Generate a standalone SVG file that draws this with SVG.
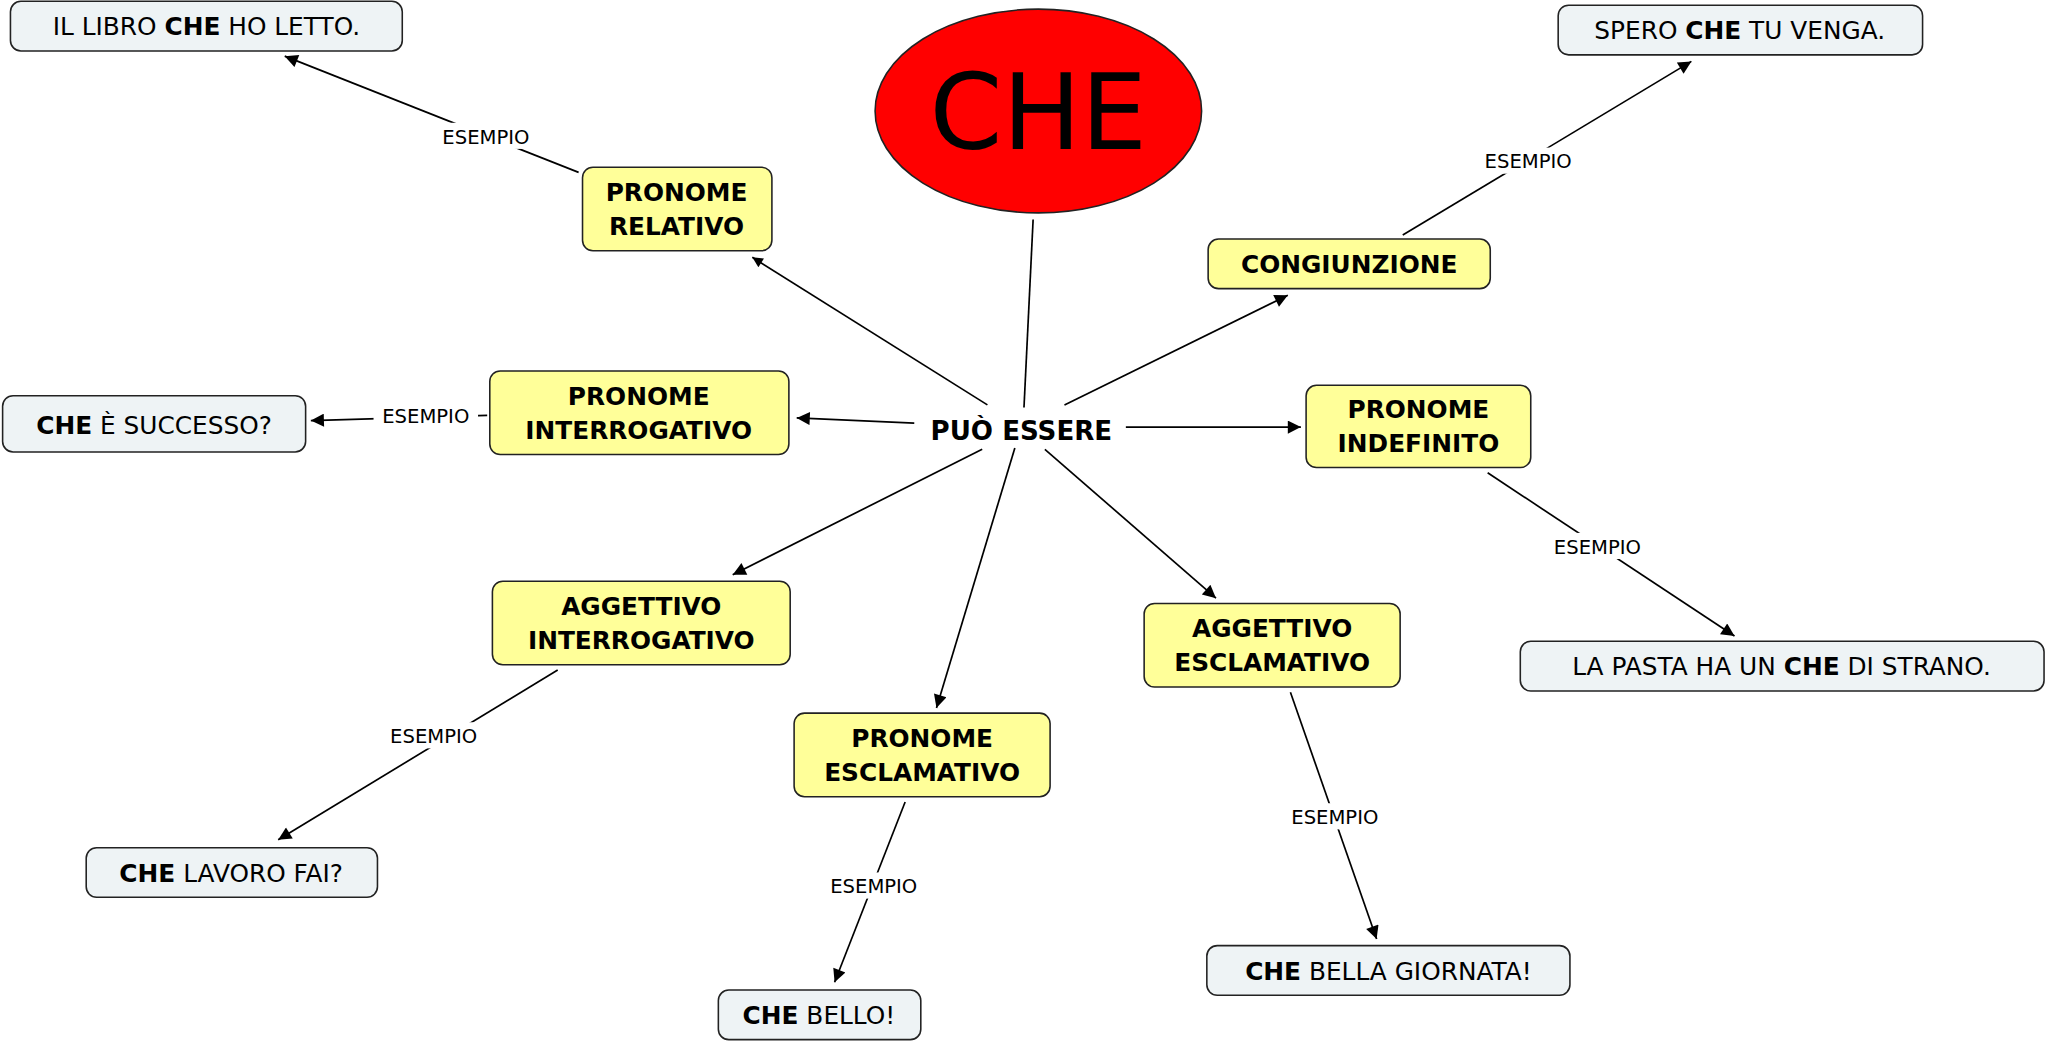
<svg xmlns="http://www.w3.org/2000/svg" width="2048" height="1044" viewBox="0 0 2048 1044">
<style>
text{font-family:"DejaVu Sans",Verdana,sans-serif;text-anchor:middle}
.n rect{fill:#ffff99;stroke:#222;stroke-width:1.2}
.n text{font-weight:bold;font-size:19px}
.e rect{fill:#eef3f5;stroke:#222;stroke-width:1.2}
.e text{font-size:19px}
.c line{stroke:#000;stroke-width:1.3}
.a{marker-end:url(#ar)}
.l rect{fill:#fff}
.l text{font-size:15px}
</style>
<defs><marker id="ar" viewBox="0 0 10 10" refX="10" refY="5" markerWidth="10" markerHeight="8" markerUnits="userSpaceOnUse" orient="auto"><path d="M0,0L10,5L0,10z" fill="#000"/></marker>
<marker id="ar2" viewBox="0 0 10 10" refX="10" refY="5" markerWidth="13" markerHeight="10" markerUnits="userSpaceOnUse" orient="auto"><path d="M0,0L10,5L0,10z" fill="#000"/></marker></defs>
<rect width="2048" height="1044" fill="#fff"/>
<g transform="scale(1.3061)">
<g class="c">
<line x1="791" y1="168" x2="784" y2="312"/>
<line class="a" x1="756" y1="310" x2="576" y2="197" marker-end="url(#ar2)"/>
<line x1="815" y1="310" x2="986" y2="226" marker-end="url(#ar2)"/>
<line x1="700" y1="324" x2="610" y2="320" marker-end="url(#ar2)"/>
<line x1="862" y1="327" x2="996" y2="327" marker-end="url(#ar2)"/>
<line x1="752" y1="344" x2="561" y2="440" marker-end="url(#ar2)"/>
<line x1="777" y1="343" x2="717" y2="542" marker-end="url(#ar2)"/>
<line x1="800" y1="344" x2="931" y2="458" marker-end="url(#ar2)"/>
<line x1="443" y1="132" x2="218" y2="43" marker-end="url(#ar2)"/>
<line x1="1074" y1="180" x2="1295" y2="47" marker-end="url(#ar2)"/>
<line x1="373" y1="318" x2="238" y2="322" marker-end="url(#ar2)"/>
<line x1="1139" y1="362" x2="1328" y2="487" marker-end="url(#ar2)"/>
<line x1="427" y1="513" x2="213" y2="643" marker-end="url(#ar2)"/>
<line x1="693" y1="614" x2="639" y2="752" marker-end="url(#ar2)"/>
<line x1="988" y1="530" x2="1054" y2="719" marker-end="url(#ar2)"/>
<g class="l">
<rect x="332" y="94" width="80" height="20"/><text x="372" y="110">ESEMPIO</text>
<rect x="1130" y="113" width="80" height="20"/><text x="1170" y="129">ESEMPIO</text>
<rect x="286" y="308" width="80" height="20"/><text x="326" y="324">ESEMPIO</text>
<rect x="1183" y="408" width="80" height="20"/><text x="1223" y="424">ESEMPIO</text>
<rect x="292" y="553" width="80" height="20"/><text x="332" y="569">ESEMPIO</text>
<rect x="629" y="668" width="80" height="20"/><text x="669" y="684">ESEMPIO</text>
<rect x="982" y="615" width="80" height="20"/><text x="1022" y="631">ESEMPIO</text>
</g>
</g>
<g id="che"><ellipse cx="795" cy="85" rx="125" ry="78" fill="#ff0000" stroke="#222" stroke-width="1.2"/><text x="795" y="114" font-size="80">CHE</text></g>
<g id="puo"><text x="782" y="337" font-size="20" font-weight="bold">PUÒ ESSERE</text></g>
<g id="relativo" class="n"><rect x="446" y="128" width="145" height="64" rx="8"/><text x="518" y="154">PRONOME</text><text x="518" y="180">RELATIVO</text></g>
<g id="congiunzione" class="n"><rect x="925" y="183" width="216" height="38" rx="8"/><text x="1033" y="209">CONGIUNZIONE</text></g>
<g id="interrogativo" class="n"><rect x="375" y="284" width="229" height="64" rx="8"/><text x="489" y="310">PRONOME</text><text x="489" y="336">INTERROGATIVO</text></g>
<g id="indefinito" class="n"><rect x="1000" y="295" width="172" height="63" rx="8"/><text x="1086" y="320">PRONOME</text><text x="1086" y="346">INDEFINITO</text></g>
<g id="agginterr" class="n"><rect x="377" y="445" width="228" height="64" rx="8"/><text x="491" y="471">AGGETTIVO</text><text x="491" y="497">INTERROGATIVO</text></g>
<g id="aggescl" class="n"><rect x="876" y="462" width="196" height="64" rx="8"/><text x="974" y="488">AGGETTIVO</text><text x="974" y="514">ESCLAMATIVO</text></g>
<g id="pronescl" class="n"><rect x="608" y="546" width="196" height="64" rx="8"/><text x="706" y="572">PRONOME</text><text x="706" y="598">ESCLAMATIVO</text></g>
<g id="e1" class="e"><rect x="8" y="1" width="300" height="38" rx="8"/><text x="158" y="27">IL LIBRO <tspan font-weight="bold">CHE</tspan> HO LETTO.</text></g>
<g id="e2" class="e"><rect x="1193" y="4" width="279" height="38" rx="8"/><text x="1332" y="30">SPERO <tspan font-weight="bold">CHE</tspan> TU VENGA.</text></g>
<g id="e3" class="e"><rect x="2" y="303" width="232" height="43" rx="8"/><text x="118" y="332"><tspan font-weight="bold">CHE</tspan> È SUCCESSO?</text></g>
<g id="e4" class="e"><rect x="1164" y="491" width="401" height="38" rx="8"/><text x="1364" y="517">LA PASTA HA UN <tspan font-weight="bold">CHE</tspan> DI STRANO.</text></g>
<g id="e5" class="e"><rect x="66" y="649" width="223" height="38" rx="8"/><text x="177" y="675"><tspan font-weight="bold">CHE</tspan> LAVORO FAI?</text></g>
<g id="e6" class="e"><rect x="550" y="758" width="155" height="38" rx="8"/><text x="627" y="784"><tspan font-weight="bold">CHE</tspan> BELLO!</text></g>
<g id="e7" class="e"><rect x="924" y="724" width="278" height="38" rx="8"/><text x="1063" y="750"><tspan font-weight="bold">CHE</tspan> BELLA GIORNATA!</text></g>
</g>
</svg>
